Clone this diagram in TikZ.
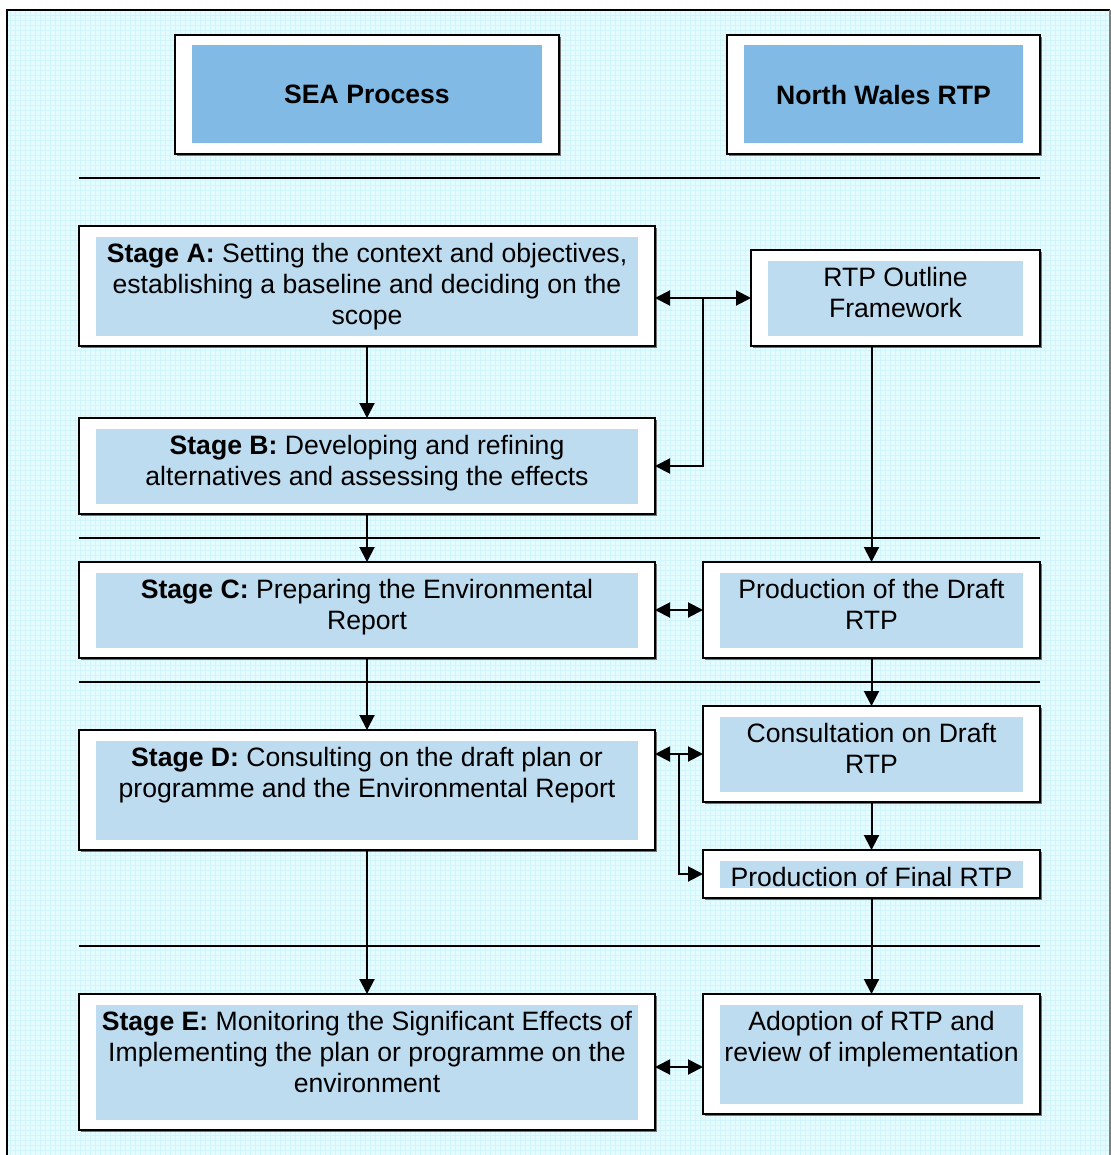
\documentclass[tikz,border=0pt]{standalone}
\usepackage{fontspec}
\setmainfont{Liberation Sans}
\usetikzlibrary{arrows.meta, positioning, calc, shadows}
\definecolor{latarcyan}{RGB}{228,252,255}
\definecolor{gariscyan}{RGB}{208,245,250}
\definecolor{birujudul}{RGB}{128,186,229}
\definecolor{birumuda}{RGB}{190,220,240}

\begin{document}
\begin{tikzpicture}[x=0.5pt, y=-0.5pt, font=\fontsize{13.3}{15.5}\selectfont,
    box/.style={draw, fill=white, line width=1pt, outer sep=0pt, inner sep=0pt,
        drop shadow={shadow xshift=0.8pt, shadow yshift=-0.8pt, fill=black!55, opacity=1},
        path picture={\fill[#1] ($(path picture bounding box.south west)+(8.5pt,5.25pt)$)
            rectangle ($(path picture bounding box.north east)+(-8.5pt,-5.25pt)$);}},
    box/.default=birumuda,
    txt/.style={align=center, inner sep=0pt},
    arr/.style={line width=1pt, -{Triangle[length=7.5pt, width=7.5pt]}},
    arr2/.style={line width=1pt, {Triangle[length=7.5pt, width=7.5pt]}-{Triangle[length=7.5pt, width=7.5pt]}},
    garis/.style={line width=0.9pt}]
    \useasboundingbox (0,0) rectangle (1111,1155);
    % background
    \fill[white] (0,0) rectangle (1111,1155);
    \fill[latarcyan] (7,10) rectangle (1111,1155);
    \draw[gariscyan, line width=0.3pt, step=2.5pt] (7,10) grid (1111,1155);
    \draw[line width=1.2pt] (7,1160) -- (7,10) -- (1110,10);
    \draw[black!50, line width=0.6pt] (1110,10) -- (1110,1160);

    % headers
    \node[box=birujudul, minimum width=192pt, minimum height=59.5pt] (sea) at (367,94.5)
        {\textbf{SEA Process}};
    \node[box=birujudul, minimum width=156.5pt, minimum height=59.5pt] (nw) at (883.5,94.5)
        {\textbf{North Wales RTP}};

    % separators
    \draw[garis] (79,178) -- (1040,178);
    \draw[garis] (79,538) -- (1040,538);
    \draw[garis] (79,682) -- (1040,682);
    \draw[garis] (79,946) -- (1040,946);

    % SEA stages
    \node[box, minimum width=288pt, minimum height=60pt] (stA) at (367,286) {};
    \node[txt, below=8.3pt of stA.north] (stA-t)
        {\textbf{Stage A:} Setting the context and objectives,\\establishing a baseline and deciding on the\\scope};
    \node[box, minimum width=288pt, minimum height=48pt] (stB) at (367,466) {};
    \node[txt, below=8.3pt of stB.north] (stB-t)
        {\textbf{Stage B:} Developing and refining\\alternatives and assessing the effects};
    \node[box, minimum width=288pt, minimum height=48pt] (stC) at (367,610) {};
    \node[txt, below=8.3pt of stC.north] (stC-t)
        {\textbf{Stage C:} Preparing the Environmental\\Report};
    \node[box, minimum width=288pt, minimum height=60pt] (stD) at (367,790) {};
    \node[txt, below=8.3pt of stD.north] (stD-t)
        {\textbf{Stage D:} Consulting on the draft plan or\\programme and the Environmental Report};
    \node[box, minimum width=288pt, minimum height=68pt] (stE) at (367,1062) {};
    \node[txt, below=8.3pt of stE.north] (stE-t)
        {\textbf{Stage E:} Monitoring the Significant Effects of\\Implementing the plan or programme on the\\environment};

    % RTP steps
    \node[box, minimum width=144.5pt, minimum height=48pt] (outline) at (895.5,298) {};
    \node[txt, below=8.3pt of outline.north] (outline-t) {RTP Outline\\Framework};
    \node[box, minimum width=168.5pt, minimum height=48pt] (draft) at (871.5,610) {};
    \node[txt, below=8.3pt of draft.north] (draft-t) {Production of the Draft\\RTP};
    \node[box, minimum width=168.5pt, minimum height=48pt] (consult) at (871.5,754) {};
    \node[txt, below=8.3pt of consult.north] (consult-t) {Consultation on Draft\\RTP};
    \node[box, minimum width=168.5pt, minimum height=24pt] (final) at (871.5,874) {};
    \node[txt, below=8.3pt of final.north] (final-t) {Production of Final RTP};
    \node[box, minimum width=168.5pt, minimum height=60pt] (adopt) at (871.5,1054) {};
    \node[txt, below=8.3pt of adopt.north] (adopt-t) {Adoption of RTP and\\review of implementation};

    % connectors
    \coordinate (jAB) at ($(stA.east)!0.5!(outline.west)$);
    \coordinate (jDF) at ($(stD.east)!0.5!(consult.west)$);
    \draw[arr2] (stA.east |- outline.west) -- (outline.west);
    \draw[arr] (jAB |- outline.west) |- (stB.east);
    \draw[arr] (stA) -- (stB);
    \draw[arr] (stB) -- (stC);
    \draw[arr] (stC) -- (stD);
    \draw[arr] (stD) -- (stE);
    \draw[arr] (outline.south -| draft.north) -- (draft.north);
    \draw[arr2] (stC) -- (draft);
    \draw[arr] (draft) -- (consult);
    \draw[arr2] (stD.east |- consult.west) -- (consult.west);
    \draw[arr] (jDF |- consult.west) |- (final.west);
    \draw[arr] (consult) -- (final);
    \draw[arr] (final) -- (adopt);
    \draw[arr2] ([yshift=-2.5pt]stE.east) -- ([yshift=-2.5pt]stE.east -| adopt.west);
\end{tikzpicture}
\end{document}
